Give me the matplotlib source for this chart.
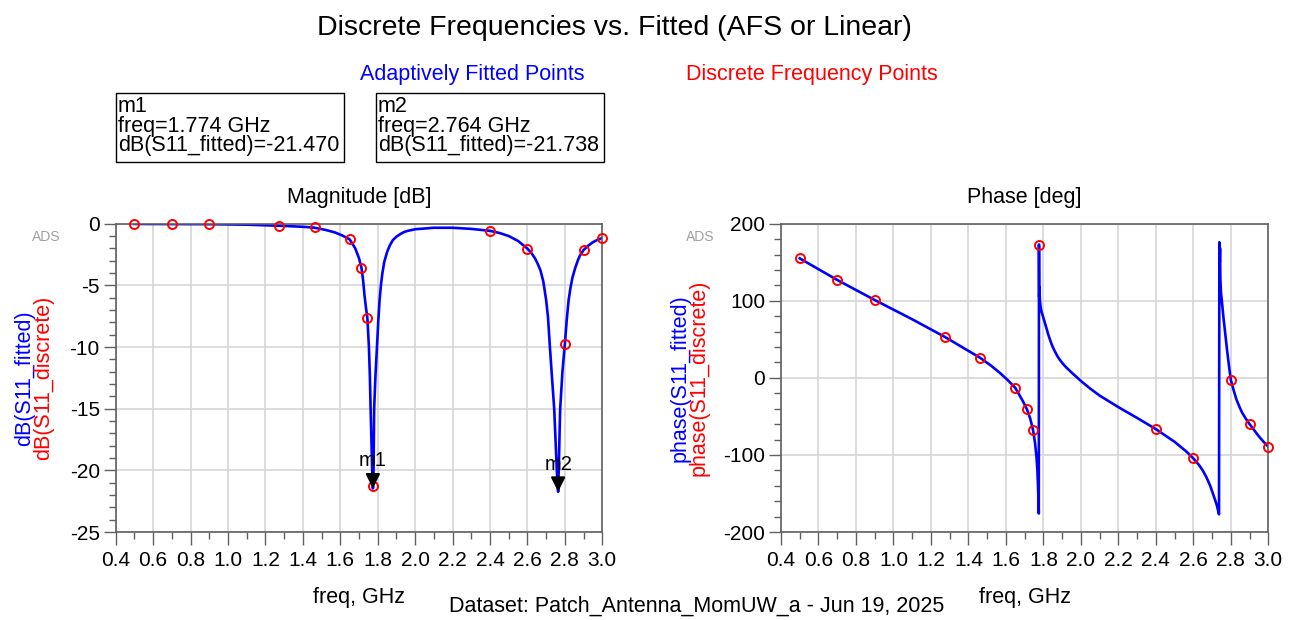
import matplotlib
matplotlib.use('Agg')
import matplotlib.pyplot as plt
from matplotlib.patches import Rectangle
from matplotlib.ticker import MultipleLocator, FormatStrFormatter

plt.rcParams['font.family'] = ['Liberation Sans', 'DejaVu Sans']
plt.rcParams['axes.unicode_minus'] = False

# discrete frequency points (red circles)
disc_freq = [0.5, 0.7, 0.9, 1.275, 1.4625, 1.65, 1.7125, 1.745, 1.776, 2.4, 2.6, 2.8, 2.9, 3.0]
disc_db = [-0.02, -0.03, -0.03, -0.17, -0.3, -1.27, -3.56, -7.65, -21.3, -0.6, -2.02, -9.76, -2.13, -1.16]
disc_phase = [155, 127, 101, 53, 26, -13, -41, -68, 173, -66.5, -104.5, -2.6, -60, -89.4]

# adaptively fitted curve, magnitude
fit_freq_db = [0.50, 0.70, 0.90, 1.10, 1.28, 1.40, 1.46, 1.52, 1.57, 1.61, 1.65, 1.68, 1.70, 1.713,
               1.722, 1.730, 1.738, 1.745, 1.753, 1.758, 1.762, 1.766, 1.770, 1.774, 1.776, 1.778,
               1.781, 1.788, 1.796, 1.803, 1.81, 1.817, 1.825, 1.835, 1.85, 1.865, 1.88, 1.90,
               1.92, 1.94, 1.96, 2.00, 2.10, 2.20, 2.30, 2.40, 2.45, 2.50, 2.55, 2.60, 2.62,
               2.64, 2.655, 2.67, 2.685, 2.70, 2.71, 2.72, 2.73, 2.743, 2.750, 2.757, 2.764,
               2.768, 2.772, 2.775, 2.787, 2.80, 2.81, 2.82, 2.83, 2.84, 2.855, 2.87, 2.88,
               2.90, 2.925, 2.95, 2.975, 3.00]
fit_db = [-0.02, -0.03, -0.04, -0.08, -0.17, -0.25, -0.32, -0.5, -0.7, -0.95, -1.27, -2.0, -2.8, -3.56,
          -4.6, -5.9, -6.9, -7.7, -10.0, -12.3, -15.0, -17.3, -19.8, -21.47, -21.3, -19.6,
          -15.0, -12.3, -10.0, -7.9, -6.2, -5.0, -4.0, -3.1, -2.3, -1.75, -1.35, -1.05,
          -0.85, -0.68, -0.58, -0.45, -0.33, -0.33, -0.42, -0.58, -0.75, -1.0, -1.4, -2.02, -2.35,
          -2.8, -3.25, -3.8, -4.7, -6.2, -7.6, -10.0, -12.2, -15.0, -17.5, -20.0, -21.74,
          -19.5, -16.8, -15.0, -12.0, -9.76, -7.8, -6.2, -5.2, -4.4, -3.6, -2.95, -2.6,
          -2.13, -1.78, -1.5, -1.3, -1.16]

# adaptively fitted curve, phase
fit_freq_ph = [0.50, 0.70, 0.90, 1.10, 1.275, 1.40, 1.4625, 1.52, 1.57, 1.61, 1.65, 1.69, 1.7125,
               1.73, 1.745, 1.755, 1.763, 1.768, 1.772, 1.7755, 1.7765, 1.7775, 1.779, 1.781,
               1.785, 1.79, 1.80, 1.812, 1.825, 1.836, 1.848, 1.86, 1.875, 1.889, 1.905, 1.92,
               1.95, 2.00, 2.05, 2.10, 2.20, 2.30, 2.40, 2.50, 2.56, 2.60, 2.63, 2.65, 2.67,
               2.69, 2.71, 2.725, 2.737, 2.739, 2.741, 2.7425, 2.744, 2.747, 2.752, 2.76, 2.77,
               2.78, 2.79, 2.80, 2.815, 2.83, 2.845, 2.86, 2.88, 2.90, 2.925, 2.95, 2.975, 3.00]
fit_phase = [155, 127, 101, 76, 53, 35, 26, 16, 6, -3, -13, -30, -41,
             -53, -68, -84, -102, -120, -145, -176, 173, 105, 118, 102,
             92, 86, 78, 68, 57, 49, 41, 35, 28, 23, 18, 14,
             7, -4, -14, -23, -38, -52, -66.5, -83, -95, -104.5, -113, -120, -129,
             -140, -154, -165, -177, 176, 150, 168, 130, 112, 100, 80, 58,
             36, 16, -2.6, -16, -28, -37, -45, -53, -60, -68, -76, -83, -89.4]

markers = [('m1', 1.774, -21.470), ('m2', 2.764, -21.738)]
marker_boxes = [('m1', '1.774', '-21.470'), ('m2', '2.764', '-21.738')]

W, H = 1295, 620
BLUE = '#0000ff'
RED = '#ff0000'

fig = plt.figure(figsize=(W / 100, H / 100), dpi=100)


def px(x, y):
    return x / W, 1 - y / H


def style_axes(ax, ymaj, ymin):
    ax.set_xlim(0.4, 3.0)
    ax.xaxis.set_major_locator(MultipleLocator(0.2))
    ax.xaxis.set_minor_locator(MultipleLocator(0.1))
    ax.xaxis.set_major_formatter(FormatStrFormatter('%.1f'))
    ax.yaxis.set_major_locator(MultipleLocator(ymaj))
    ax.yaxis.set_minor_locator(MultipleLocator(ymin))
    ax.grid(True, which='major', color='#d6d6d6', lw=1.2)
    ax.set_axisbelow(True)
    for s in ax.spines.values():
        s.set_color('#606060')
        s.set_linewidth(1.2)
    ax.tick_params(which='major', direction='out', length=9, width=1, color='#606060', labelsize=15)
    ax.tick_params(which='minor', direction='out', length=5, width=1, color='#606060')
    ax.tick_params(axis='x', pad=5)
    ax.tick_params(axis='y', pad=2.4)


# magnitude
ax1 = fig.add_axes([115.7 / W, 1 - 532 / H, 486.6 / W, 308.3 / H])
ax1.plot(fit_freq_db, fit_db, color=BLUE, lw=1.9, zorder=2)
ax1.plot(disc_freq, disc_db, 'o', ms=6.5, mfc='none', mec=RED, mew=1.4, zorder=3, clip_on=False)
ax1.set_ylim(-25, 0)
style_axes(ax1, 5, 1)
for name, f, db in markers:
    ax1.annotate(name, xy=(f, db), xytext=(0, 16), textcoords='offset points',
                 ha='center', va='baseline', fontsize=14.5,
                 arrowprops=dict(arrowstyle='-|>,head_length=0.6,head_width=0.3',
                                 color='black', lw=1.5, shrinkA=0, shrinkB=0))

# phase
ax2 = fig.add_axes([781 / W, 1 - 532 / H, 487.3 / W, 308.3 / H])
ax2.plot(fit_freq_ph, fit_phase, color=BLUE, lw=1.9, zorder=2)
ax2.plot(disc_freq, disc_phase, 'o', ms=6.5, mfc='none', mec=RED, mew=1.4, zorder=3, clip_on=False)
ax2.set_ylim(-200, 200)
style_axes(ax2, 100, 20)

# titles and labels
fig.text(*px(614, 35), 'Discrete Frequencies vs. Fitted (AFS or Linear)', ha='center',
         va='baseline', fontsize=20.5)
fig.text(*px(472, 80), 'Adaptively Fitted Points', color=BLUE, ha='center', va='baseline', fontsize=15.5)
fig.text(*px(812, 80), 'Discrete Frequency Points', color=RED, ha='center', va='baseline', fontsize=15.5)
fig.text(*px(359, 203), 'Magnitude [dB]', ha='center', va='baseline', fontsize=15.5)
fig.text(*px(1024.6, 203), 'Phase [deg]', ha='center', va='baseline', fontsize=15.5)
fig.text(*px(359, 603), 'freq, GHz', ha='center', va='baseline', fontsize=15.5)
fig.text(*px(1024.6, 603), 'freq, GHz', ha='center', va='baseline', fontsize=15.5)
fig.text(*px(697, 612), 'Dataset: Patch_Antenna_MomUW_a - Jun 19, 2025', ha='center',
         va='baseline', fontsize=15.5)

fig.text(*px(25, 378), 'dB(S11_fitted)', color=BLUE, rotation=90, ha='center', va='center', fontsize=15.5)
fig.text(*px(44, 378), 'dB(S11_discrete)', color=RED, rotation=90, ha='center', va='center', fontsize=15.5)
fig.text(*px(680, 378), 'phase(S11_fitted)', color=BLUE, rotation=90, ha='center', va='center', fontsize=15.5)
fig.text(*px(699, 378), 'phase(S11_discrete)', color=RED, rotation=90, ha='center', va='center', fontsize=15.5)

fig.text(*px(46, 237), 'ADS', color='#a0a0a0', ha='center', va='center', fontsize=10)
fig.text(*px(700, 237), 'ADS', color='#a0a0a0', ha='center', va='center', fontsize=10)

# marker readout boxes
box_left = [115.8, 375.9]
box_right = [343.7, 603.8]
for (name, freq, val), x0, x1 in zip(marker_boxes, box_left, box_right):
    fig.add_artist(Rectangle(px(x0, 162), (x1 - x0) / W, 69 / H, transform=fig.transFigure,
                             fill=False, ec='black', lw=1))
    lines = [name, 'freq=' + freq + ' GHz', 'dB(S11_fitted)=' + val]
    for i, t in enumerate(lines):
        fig.text(*px(x0 + 2, 112 + 19.5 * i), t, ha='left', va='baseline', fontsize=15.5)

plt.savefig('out.png', dpi=100)
